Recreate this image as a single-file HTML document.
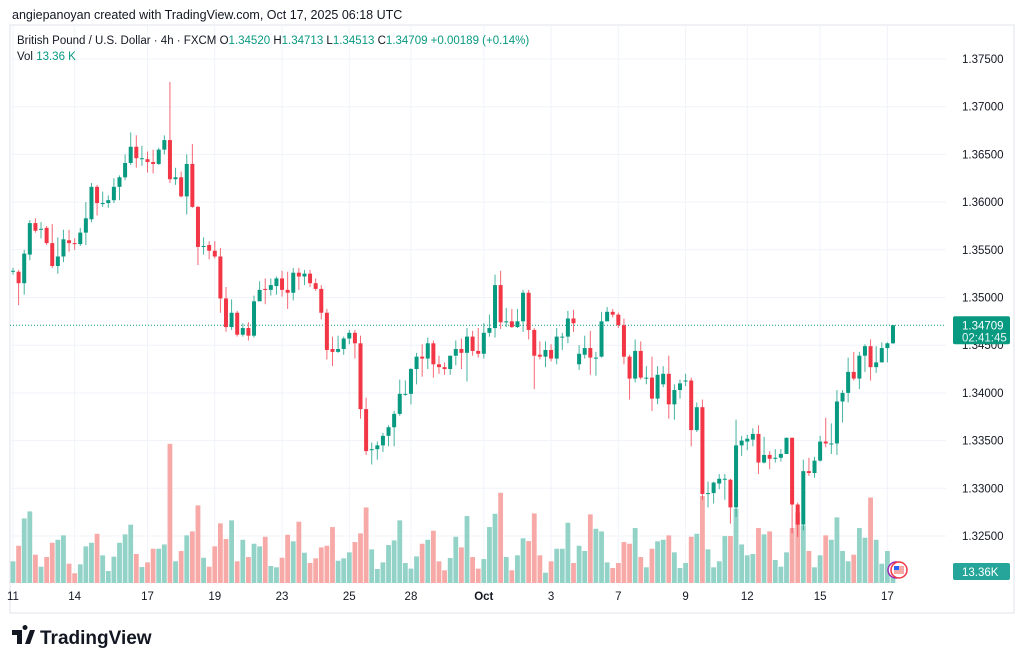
<!DOCTYPE html>
<html><head><meta charset="utf-8">
<style>
body{margin:0;background:#fff;font-family:"Liberation Sans",sans-serif;}
svg{display:block}
text{font-family:"Liberation Sans",sans-serif}
</style></head>
<body>
<svg id="chart" width="1024" height="665" viewBox="0 0 1024 665">
<rect x="0" y="0" width="1024" height="665" fill="#ffffff"/>
<text x="12" y="19" font-size="12.5" fill="#131722">angiepanoyan created with TradingView.com, Oct 17, 2025 06:18 UTC</text>
<rect x="10" y="25" width="1004" height="588" fill="none" stroke="#e0e3eb" stroke-width="1"/>
<g id="grid"></g>
<g id="vol"></g>
<line id="lastline" x1="10" x2="946" stroke="#089981" stroke-width="1" stroke-dasharray="1,2"/>
<g id="candles"></g>
<g id="yaxis"></g>
<g id="xaxis"></g>
<g>
<text x="17" y="44" font-size="11.5" fill="#131722">British Pound / U.S. Dollar · 4h · FXCM <tspan fill="#131722">O</tspan><tspan fill="#089981">1.34520</tspan> <tspan fill="#131722">H</tspan><tspan fill="#089981">1.34713</tspan> <tspan fill="#131722">L</tspan><tspan fill="#089981">1.34513</tspan> <tspan fill="#131722">C</tspan><tspan fill="#089981">1.34709 +0.00189 (+0.14%)</tspan></text>
<text x="17" y="60" font-size="11.5" fill="#131722">Vol <tspan fill="#089981">13.36 K</tspan></text>
</g>
<g>
<circle cx="896" cy="570" r="8" fill="#fff" stroke="#9c27b0" stroke-width="1.5"/>
<circle cx="899" cy="570" r="8" fill="#fff" stroke="#f23645" stroke-width="1.5"/>
<rect x="894" y="566" width="10" height="8" fill="#f7a9a7"/>
<rect x="894" y="566" width="5" height="4" fill="#2962ff"/>
</g>
<g>
<path d="M12 630h10v14h-5v-9h-5z M25 630a2.5 2.5 0 1 1 0.01 0z M30 630h5l-5 14h-5z" fill="#131722"/>
<text x="40" y="644" font-size="19" font-weight="bold" fill="#131722">TradingView</text>
</g>
</svg>
<script>
const opens=[1.3528,1.3527,1.3515,1.3545,1.3578,1.3572,1.3573,1.3557,1.3533,1.3543,1.3560,1.3557,1.3556,1.3568,1.3582,1.3616,1.3599,1.3599,1.3602,1.3616,1.3626,1.3641,1.3658,1.3646,1.3645,1.3642,1.3640,1.3655,1.3665,1.3624,1.3626,1.3606,1.3640,1.3595,1.3554,1.3555,1.3549,1.3543,1.3499,1.3469,1.3484,1.3461,1.3468,1.3460,1.3496,1.3509,1.3508,1.3512,1.3520,1.3508,1.3505,1.3526,1.3522,1.3525,1.3515,1.3509,1.3484,1.3446,1.3443,1.3446,1.3457,1.3463,1.3452,1.3383,1.3341,1.3341,1.3345,1.3355,1.3364,1.3378,1.3399,1.3399,1.3425,1.3438,1.3436,1.3452,1.3430,1.3427,1.3425,1.3439,1.3446,1.3442,1.3459,1.3444,1.3441,1.3463,1.3468,1.3513,1.3475,1.3475,1.3469,1.3475,1.3505,1.3466,1.3440,1.3438,1.3445,1.3436,1.3459,1.3459,1.3478,1.3430,1.3440,1.3447,1.3437,1.3438,1.3475,1.3485,1.3482,1.3471,1.3438,1.3415,1.3444,1.3416,1.3416,1.3394,1.3409,1.3420,1.3388,1.3403,1.3413,1.3413,1.3361,1.3385,1.3295,1.3295,1.3305,1.3310,1.3309,1.3280,1.3345,1.3349,1.3351,1.3357,1.3327,1.3335,1.3332,1.3332,1.3336,1.3353,1.3283,1.3262,1.3318,1.3316,1.3329,1.3349,1.3347,1.3347,1.3391,1.3400,1.3422,1.3415,1.3439,1.3449,1.3427,1.3432,1.3447,1.34520];
const highs=[1.3531,1.3529,1.3550,1.3581,1.3583,1.3579,1.3575,1.3577,1.3563,1.3571,1.3571,1.3562,1.3573,1.3600,1.3620,1.3618,1.3611,1.3607,1.3625,1.3628,1.3650,1.3673,1.3670,1.3659,1.3653,1.3655,1.3657,1.3670,1.3726,1.3636,1.3632,1.3650,1.3661,1.3596,1.3563,1.3559,1.3559,1.3552,1.3511,1.3498,1.3486,1.3473,1.3474,1.3502,1.3517,1.3520,1.3520,1.3522,1.3528,1.3527,1.3531,1.3531,1.3529,1.3529,1.3520,1.3513,1.3488,1.3459,1.3460,1.3459,1.3466,1.3466,1.3460,1.3395,1.3348,1.3349,1.3358,1.3366,1.3381,1.3414,1.3413,1.3426,1.3442,1.3451,1.3458,1.3455,1.3439,1.3432,1.3439,1.3455,1.3457,1.3468,1.3465,1.3468,1.3473,1.3482,1.3524,1.3528,1.3489,1.3488,1.3488,1.3508,1.3508,1.3468,1.3454,1.3454,1.3451,1.3468,1.3463,1.3486,1.3487,1.3450,1.3460,1.3465,1.3443,1.3485,1.3490,1.3488,1.3484,1.3478,1.3440,1.3456,1.3454,1.3428,1.3438,1.3428,1.3428,1.3439,1.3409,1.3414,1.3420,1.3416,1.3390,1.3393,1.3307,1.3307,1.3315,1.3315,1.3310,1.3372,1.3355,1.3356,1.3363,1.3366,1.3354,1.3339,1.3341,1.3341,1.3353,1.3353,1.3285,1.3330,1.3332,1.3333,1.3355,1.3374,1.3368,1.3403,1.3403,1.3437,1.3443,1.3443,1.3451,1.3456,1.3449,1.3453,1.3453,1.34713];
const lows=[1.3524,1.3492,1.3503,1.3539,1.3568,1.3562,1.3555,1.3531,1.3525,1.3537,1.3548,1.3550,1.3554,1.3555,1.3579,1.3586,1.3595,1.3594,1.3599,1.3602,1.3623,1.3639,1.3636,1.3638,1.3631,1.3630,1.3639,1.3650,1.3620,1.3618,1.3605,1.3587,1.3594,1.3534,1.3545,1.3540,1.3541,1.3484,1.3464,1.3466,1.3459,1.3459,1.3455,1.3458,1.3497,1.3493,1.3502,1.3503,1.3501,1.3488,1.3497,1.3508,1.3513,1.3511,1.3507,1.3477,1.3435,1.3428,1.3442,1.3440,1.3451,1.3436,1.3373,1.3335,1.3325,1.3330,1.3338,1.3344,1.3344,1.3376,1.3397,1.3388,1.3409,1.3417,1.3425,1.3416,1.3420,1.3419,1.3419,1.3429,1.3425,1.3412,1.3439,1.3437,1.3436,1.3459,1.3458,1.3467,1.3469,1.3468,1.3468,1.3464,1.3456,1.3404,1.3435,1.3427,1.3433,1.3430,1.3445,1.3452,1.3464,1.3424,1.3436,1.3419,1.3418,1.3437,1.3476,1.3479,1.3468,1.3430,1.3393,1.3411,1.3414,1.3409,1.3381,1.3388,1.3406,1.3373,1.3372,1.3394,1.3407,1.3344,1.3359,1.3288,1.3280,1.3284,1.3299,1.3288,1.3263,1.3270,1.3334,1.3340,1.3344,1.3315,1.3326,1.3320,1.3327,1.3328,1.3336,1.3253,1.3249,1.3256,1.3313,1.3311,1.3328,1.3343,1.3336,1.3335,1.3369,1.3390,1.3413,1.3404,1.3422,1.3413,1.3421,1.3432,1.3432,1.34513];
const closes=[1.3528,1.3515,1.3546,1.3578,1.3570,1.3572,1.3557,1.3533,1.3543,1.3561,1.3557,1.3556,1.3568,1.3583,1.3616,1.3599,1.3599,1.3602,1.3616,1.3626,1.3641,1.3658,1.3646,1.3646,1.3642,1.3640,1.3655,1.3665,1.3624,1.3626,1.3606,1.3640,1.3595,1.3553,1.3554,1.3549,1.3543,1.3499,1.3469,1.3484,1.3461,1.3468,1.3460,1.3496,1.3508,1.3508,1.3513,1.3520,1.3508,1.3505,1.3526,1.3522,1.3525,1.3515,1.3509,1.3484,1.3445,1.3443,1.3446,1.3457,1.3463,1.3452,1.3383,1.3339,1.3341,1.3345,1.3355,1.3364,1.3378,1.3399,1.3399,1.3425,1.3438,1.3436,1.3452,1.3430,1.3427,1.3425,1.3439,1.3446,1.3442,1.3459,1.3444,1.3441,1.3463,1.3468,1.3513,1.3474,1.3475,1.3469,1.3475,1.3505,1.3466,1.3439,1.3438,1.3445,1.3436,1.3459,1.3459,1.3478,1.3473,1.3441,1.3447,1.3437,1.3437,1.3475,1.3485,1.3482,1.3471,1.3438,1.3415,1.3444,1.3416,1.3416,1.3394,1.3419,1.3420,1.3388,1.3403,1.3410,1.3413,1.3361,1.3385,1.3294,1.3295,1.3306,1.3310,1.3310,1.3280,1.3345,1.3350,1.3352,1.3357,1.3327,1.3335,1.3331,1.3332,1.3336,1.3353,1.3283,1.3262,1.3318,1.3316,1.3329,1.3349,1.3347,1.3347,1.3391,1.3400,1.3422,1.3415,1.3439,1.3449,1.3427,1.3432,1.3447,1.3452,1.34709];
const volumes=[18.1,31.1,53.9,59.8,23.6,13.6,21.7,33.6,36.1,39.8,16.1,8.1,15.6,30.6,33.6,41.1,23.1,10.0,22.0,33.6,40.6,48.7,24.2,13.3,17.2,28.6,28.6,32.2,116.2,18.1,26.7,39.8,43.1,64.8,21.1,13.6,30.6,49.8,36.7,52.3,18.1,36.1,21.7,32.8,30.6,38.6,14.2,13.1,21.1,40.3,34.8,51.2,25.3,16.7,20.6,29.7,31.1,46.7,18.6,20.6,25.6,34.2,41.4,63.1,28.1,11.7,17.2,31.7,35.6,52.3,16.7,12.0,22.2,32.8,36.1,43.6,18.1,10.6,20.9,38.6,29.7,55.9,21.7,12.0,20.0,46.7,57.8,75.3,21.7,10.6,23.1,37.3,35.0,58.1,23.1,8.6,18.1,28.6,28.6,50.3,16.7,31.1,26.7,57.3,45.3,43.1,17.2,12.5,16.7,34.2,32.8,45.9,21.7,13.1,28.6,34.8,36.1,39.8,25.6,12.5,16.7,38.6,41.1,72.6,28.1,13.1,18.1,39.2,39.2,62.0,32.2,23.1,24.2,45.9,40.6,43.1,19.2,13.6,25.6,45.9,58.9,48.1,26.7,13.1,23.1,39.8,36.1,54.8,26.7,18.1,23.6,45.9,37.8,71.4,36.1,16.1,26.7,13.36];
const priceTicks=[1.375,1.370,1.365,1.360,1.355,1.350,1.345,1.340,1.335,1.330,1.325];
const dateLabels=["11","14","17","19","23","25","28","Oct","3","7","9","12","15","17"];
const dateIndex=[0,11,24,36,48,60,71,84,96,108,120,131,144,156];

const NS="http://www.w3.org/2000/svg";
const PLOT_L=10, PLOT_R=946, STEP=5.605, X0=13;
function xScale(i){return X0+i*STEP;}
function yScale(p){return 59+(1.375-p)*9540;}
const VOL_BASE=583, VOL_PX=1.1976;
function vScale(v){return VOL_BASE-v*VOL_PX;}
function mk(tag,attrs,parent){const e=document.createElementNS(NS,tag);for(const k in attrs)e.setAttribute(k,attrs[k]);parent.appendChild(e);return e;}

const grid=document.getElementById('grid');
priceTicks.forEach(p=>{
  const l=mk('line',{x1:PLOT_L,x2:PLOT_R,y1:yScale(p),y2:yScale(p),stroke:'#f0f3fa','stroke-width':1},grid);
  
  
});
dateIndex.forEach(i=>{
  const l=mk('line',{x1:xScale(i),x2:xScale(i),y1:25,y2:585,stroke:'#f0f3fa','stroke-width':1},grid);
  
  
});

const vol=document.getElementById('vol');
volumes.forEach((v,i)=>{
  const up=closes[i]>=opens[i];
  const r=mk('rect',{x:xScale(i)-2.4,y:vScale(v),width:4.8,height:VOL_BASE-vScale(v),fill:up?'#92d2c7':'#f7a9a7'},vol);
  
  
});

const cg=document.getElementById('candles');
closes.forEach((c,i)=>{
  const o=opens[i],up=c>=o,col=up?'#089981':'#f23645';
  const x=xScale(i);
  const w=mk('line',{x1:x,x2:x,y1:yScale(highs[i]),y2:yScale(lows[i]),stroke:col,'stroke-width':1,'stroke-opacity':0.75},cg);
  
  
  const top=yScale(Math.max(o,c)),bot=yScale(Math.min(o,c));
  const b=mk('rect',{x:x-2,y:top,width:4,height:Math.max(1,bot-top),fill:col},cg);
  
  
});

const last=closes[closes.length-1];
const ll=document.getElementById('lastline');
ll.setAttribute('y1',yScale(last));ll.setAttribute('y2',yScale(last));

const ya=document.getElementById('yaxis');
priceTicks.forEach(p=>{
  const t=mk('text',{x:962,y:yScale(p)+4,'font-size':11.5,fill:'#131722'},ya);
  t.textContent=p.toFixed(5);
  
  
});
const ly=yScale(last);
const bx=mk('rect',{x:953,y:ly-9,width:57,height:28,fill:'#089981',rx:2},ya);


const t1=mk('text',{x:962,y:ly+4,'font-size':11.5,fill:'#fff'},ya);
t1.textContent=last.toFixed(5);


const t2=mk('text',{x:962,y:ly+16,'font-size':11.5,fill:'#e6f5f2'},ya);
t2.textContent='02:41:45';


const lv=volumes[volumes.length-1];
const vb=mk('rect',{x:953,y:563,width:57,height:17,fill:'#26a69a',rx:2},ya);


const vt=mk('text',{x:962,y:576,'font-size':11.5,fill:'#fff'},ya);
vt.textContent=lv.toFixed(2)+'K';



const xa=document.getElementById('xaxis');
dateLabels.forEach((lab,k)=>{
  const t=mk('text',{x:xScale(dateIndex[k]),y:600,'font-size':11.5,fill:'#131722','text-anchor':'middle','font-weight':lab==='Oct'?'bold':'normal'},xa);
  t.textContent=lab;
  
  
});
</script>
</body></html>
